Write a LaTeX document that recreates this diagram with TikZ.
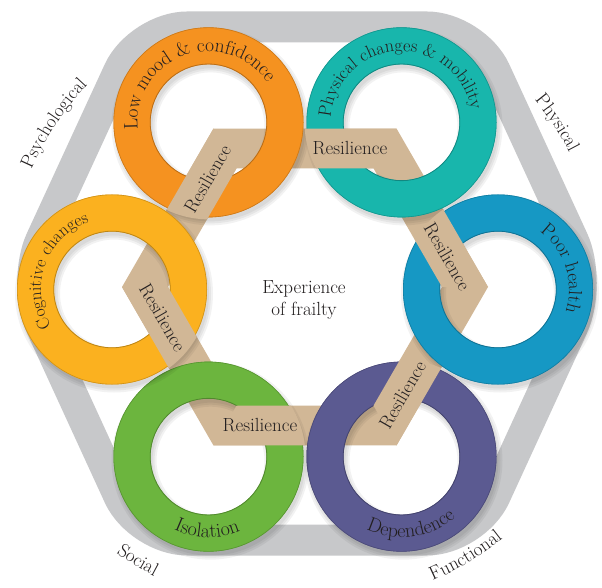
\documentclass[tikz,border=0pt]{standalone}
\usetikzlibrary{decorations.text,calc}
\definecolor{cOrange}{RGB}{245,146,32}
\definecolor{cTeal}{RGB}{24,182,172}
\definecolor{cBlue}{RGB}{22,152,196}
\definecolor{cPurple}{RGB}{91,90,145}
\definecolor{cGreen}{RGB}{108,181,62}
\definecolor{cYellow}{RGB}{251,177,31}
\definecolor{cTan}{RGB}{209,183,150}
\definecolor{cGray}{RGB}{199,200,202}
\definecolor{cText}{RGB}{35,31,32}
\newcommand\labfont{\fontsize{19}{22}\selectfont}
\newcommand\myring[2]{%
  \foreach \s in {0,2,4} {
    \fill[black,opacity=0.05,even odd rule] ($(#1)+(2,-4)$) circle[radius=95+\s] ($(#1)+(2,-4)$) circle[radius=58-\s];
  }
  \fill[#2,even odd rule] (#1) circle[radius=95] (#1) circle[radius=58];
  \draw[#2!82!black,line width=0.6] (#1) circle[radius=94.7];
  \draw[#2!75!black,line width=0.8] (#1) circle[radius=58.3];
}
\tikzset{
  ringtext/.style 2 args={decorate,decoration={text along path,text align=center,text color=cText,text={|\fontsize{#1}{22}\selectfont|#2}}},
  outertext/.style={decorate,decoration={text along path,text align=center,text color=cText,text={|\labfont|#1}}},
  reslabel/.style={text=cText,font=\labfont,inner sep=0pt},
  bandline/.style={draw=cGray,line width=31,rounded corners=48},
  ribbon/.style={fill=cTan},
}
\begin{document}
\begin{tikzpicture}[x=1pt,y=1pt]
\useasboundingbox (0,0) rectangle (602,587);
\fill[white] (0,0) rectangle (602,587);
% centres
\coordinate (C) at (305,297.5);
\coordinate (C0) at (305,298);
\coordinate (Q) at (305,300);
\foreach \a/\n in {120/rO,60/rT,0/rB,300/rP,240/rG,180/rY} {
  \coordinate (\n) at ($(C)+(\a:193)$);
}
\foreach \a in {0,60,120,180,240,300} {
  \coordinate (O\a) at ($(Q)+(\a:183)$);
  \coordinate (I\a) at ($(Q)+(\a:137)$);
}
% grey hexagon band
\path[bandline] (139,560) -- (475,560) -- (593,304) -- (475,47) -- (139,47) -- (21,304) -- cycle;
% ribbon (all links)
\fill[ribbon,even odd rule] (O0) -- (O60) -- (O120) -- (O180) -- (O240) -- (O300) -- cycle
  (I0) -- (I60) -- (I120) -- (I180) -- (I240) -- (I300) -- cycle;
% rings
\myring{rO}{cOrange}
\myring{rT}{cTeal}
\myring{rB}{cBlue}
\myring{rP}{cPurple}
\myring{rG}{cGreen}
\myring{rY}{cYellow}
% links passing over the next ring
\begin{scope}\clip (rT) circle[radius=97];
  \fill[ribbon] (O120) -- (O60) -- (I60) -- (I120) -- cycle;\end{scope}
\begin{scope}\clip (rB) circle[radius=97];
  \fill[ribbon] (O60) -- (O0) -- (I0) -- (I60) -- cycle;\end{scope}
\begin{scope}\clip (rP) circle[radius=97];
  \fill[ribbon] (O0) -- (O300) -- (I300) -- (I0) -- cycle;\end{scope}
\begin{scope}\clip (rG) circle[radius=97];
  \fill[ribbon] (O300) -- (O240) -- (I240) -- (I300) -- cycle;\end{scope}
\begin{scope}\clip (rY) circle[radius=97];
  \fill[ribbon] (O240) -- (O180) -- (I180) -- (I240) -- cycle;\end{scope}
\begin{scope}\clip (rO) circle[radius=97];
  \fill[ribbon] (O180) -- (O120) -- (I120) -- (I180) -- cycle;\end{scope}
% Resilience labels
\node[reslabel,rotate=0]   (res1) at ($(Q)+(90:138.5)+(0:45)$) {Resilience};
\node[reslabel,rotate=-60] (res2) at ($(Q)+(30:138.5)+(-60:45)$) {Resilience};
\node[reslabel,rotate=60]  (res3) at ($(Q)+(-30:138.5)+(240:45)$) {Resilience};
\node[reslabel,rotate=0]   (res4) at ($(Q)+(270:138.5)+(180:45)$) {Resilience};
\node[reslabel,rotate=-60] (res5) at ($(Q)+(210:138.5)+(120:45)$) {Resilience};
\node[reslabel,rotate=60]  (res6) at ($(Q)+(150:138.5)+(60:45)$) {Resilience};
% ring texts
\path[ringtext={19.5}{Low mood {\&} confidence}] ($(rO)+(220:71)$) arc[start angle=220,end angle=0,radius=71];
\path[ringtext={18}{Physical changes {\&} mobility}] ($(rT)+(203:71)$) arc[start angle=203,end angle=-17,radius=71];
\path[ringtext={17.5}{Cognitive changes}] ($(rY)+(270:71)$) arc[start angle=270,end angle=50,radius=71];
\path[ringtext={19}{Poor health}] ($(rB)+(128:71)$) arc[start angle=128,end angle=-92,radius=71];
\path[ringtext={20}{Isolation}] ($(rG)+(159:81)$) arc[start angle=159,end angle=379,radius=81];
\path[ringtext={20}{Dependence}] ($(rP)+(168:81)$) arc[start angle=168,end angle=388,radius=81];
% centre text
\node[text=cText,font=\labfont,anchor=base] (exp1) at (304,294) {Experience};
\node[text=cText,font=\labfont,anchor=base] (exp2) at (304,272) {of frailty};
% outer domain labels
\path[outertext={Psychological}] ($(C0)+(186.6:298.5)$) arc[start angle=186.6,end angle=106.6,radius=298.5];
\path[outertext={Physical}] ($(C0)+(73.4:297.5)$) arc[start angle=73.4,end angle=-6.6,radius=297.5];
\path[outertext={Social}] ($(C0)+(208.4:324.5)$) arc[start angle=208.4,end angle=268.4,radius=324.5];
\path[outertext={Functional}] ($(C0)+(271:318.5)$) arc[start angle=271,end angle=331,radius=318.5];
\end{tikzpicture}
\end{document}
